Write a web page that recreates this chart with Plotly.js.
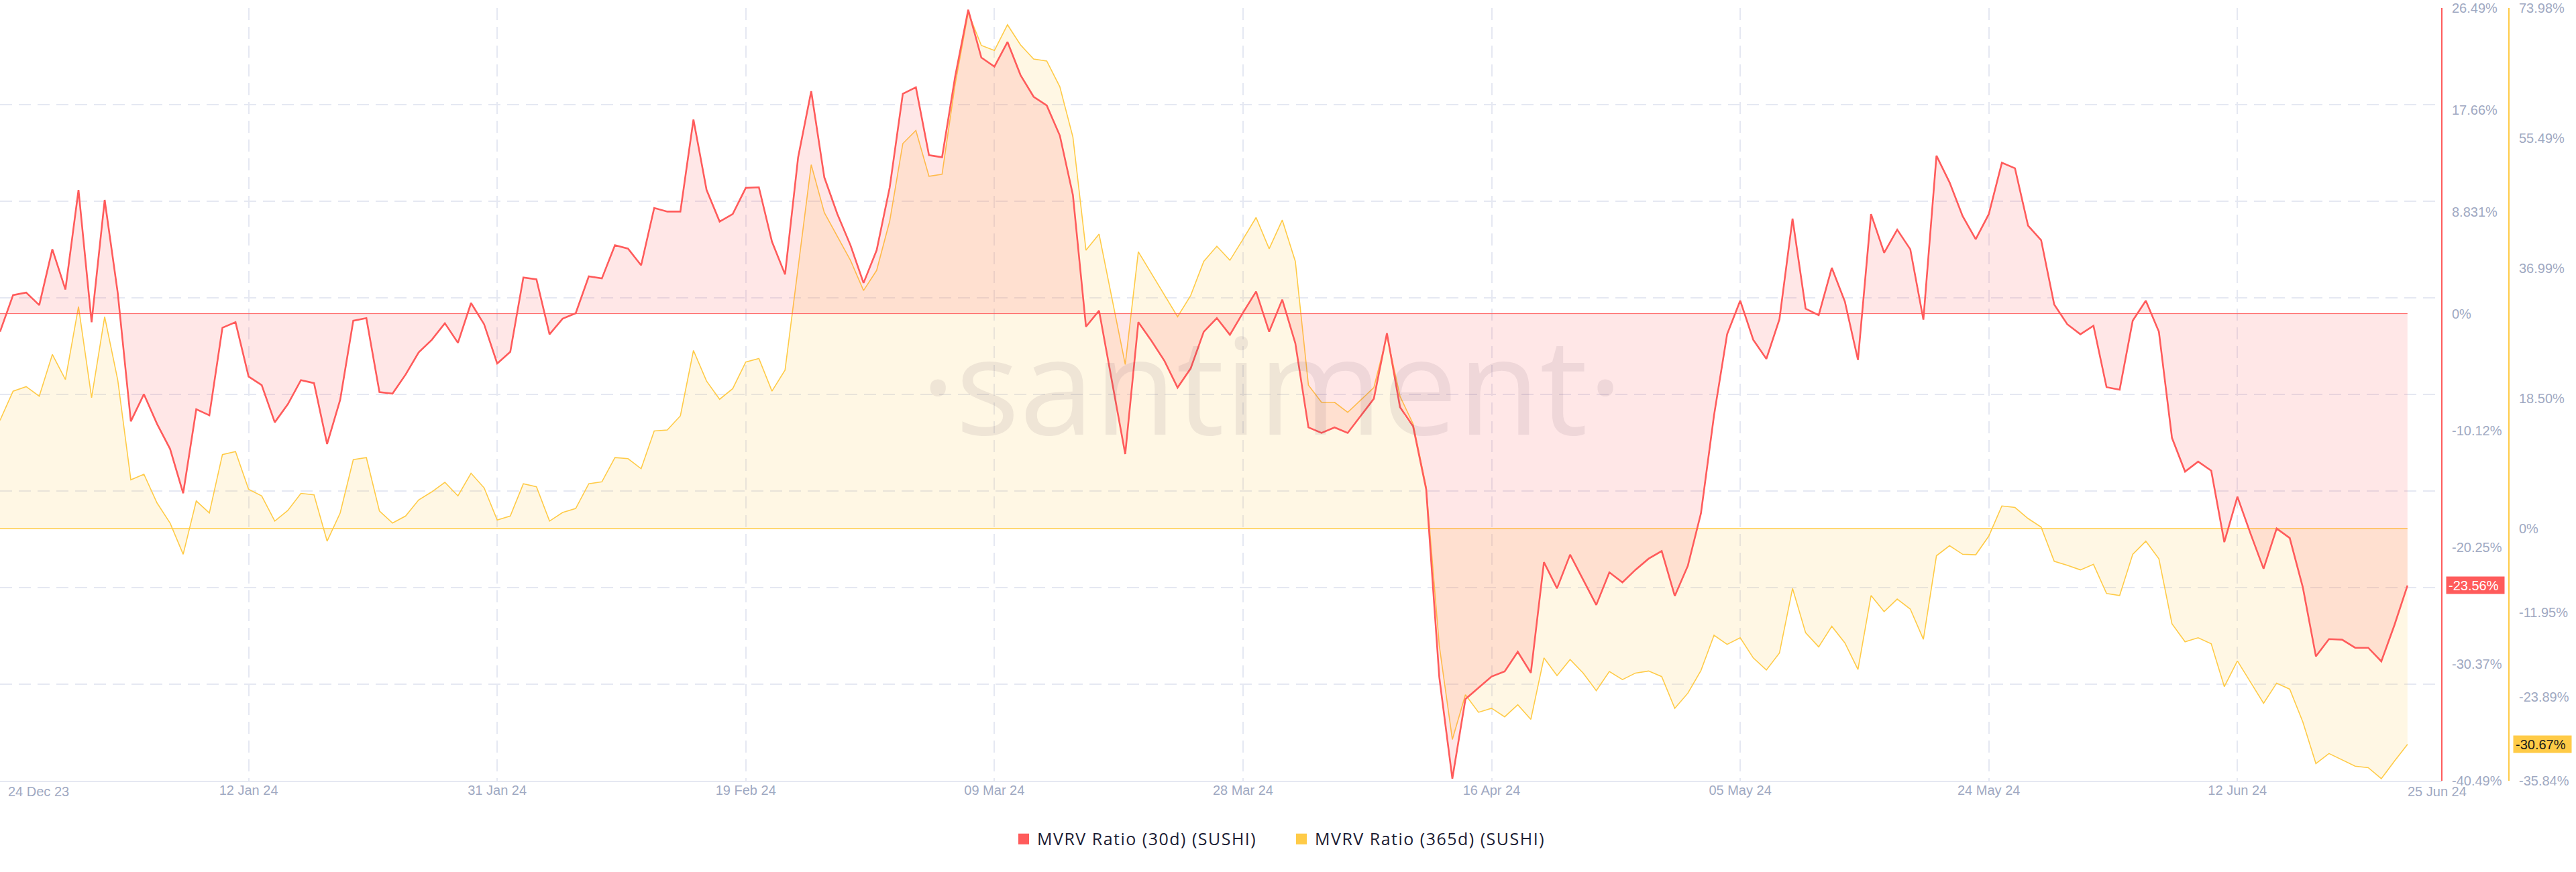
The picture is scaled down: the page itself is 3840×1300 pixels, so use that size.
<!DOCTYPE html>
<html>
<head>
<meta charset="utf-8">
<script src="https://cdn.plot.ly/plotly-3.0.1.min.js"></script>
<style>
html, body { margin: 0; padding: 0; background: #ffffff; }
#chart { width: 3840px; height: 1300px; }
#chart .legendtext { letter-spacing: 1.5px; }
</style>
</head>
<body>
<div id="chart"></div>
<script>
// ---------------- data ----------------
const START_DATE = '2023-12-24';   // first daily point
const END_DATE = '2024-06-25';     // last daily point

const seriesNames = ['MVRV Ratio (30d) (SUSHI)', 'MVRV Ratio (365d) (SUSHI)'];

// MVRV Ratio (30d), % — one value per day
const mvrv30d = [
  -1.57, 1.61, 1.83, 0.74, 5.58, 2.09, 10.73, -0.74, 9.86, 1.79,
  -9.33, -6.98, -9.55, -11.73, -15.57, -8.29, -8.81, -1.22, -0.74, -5.45,
  -6.19, -9.42, -7.85, -5.76, -6.02, -11.30, -7.46, -0.61, -0.39, -6.80,
  -6.93, -5.28, -3.36, -2.27, -0.83, -2.53, 0.92, -0.92, -4.32, -3.31,
  3.14, 2.97, -1.79, -0.44, 0.04, 3.23, 3.05, 5.93, 5.63, 4.19,
  9.16, 8.85, 8.85, 16.83, 10.73, 7.98, 8.63, 10.90, 10.95, 6.24,
  3.40, 13.56, 19.28, 11.82, 8.63, 5.93, 2.66, 5.50, 10.95, 19.06,
  19.62, 13.74, 13.56, 20.54, 26.34, 22.20, 21.41, 23.55, 20.67, 18.80,
  18.05, 15.44, 10.29, -1.13, 0.26, -5.93, -12.17, -0.74, -2.35, -4.10,
  -6.41, -4.75, -1.57, -0.39, -1.83, 0.09, 1.92, -1.57, 1.22, -2.57,
  -9.86, -10.34, -9.86, -10.34, -8.87, -7.37, -1.70, -8.11, -9.77, -15.22,
  -31.49, -40.30, -33.41, -32.45, -31.45, -31.01, -29.31, -31.14, -21.54, -23.81,
  -20.89, -23.07, -25.25, -22.42, -23.29, -22.20, -21.24, -20.58, -24.47, -21.85,
  -17.31, -8.81, -1.79, 1.13, -2.27, -3.92, -0.48, 8.24, 0.44, -0.13,
  3.97, 1.05, -4.01, 8.63, 5.28, 7.28, 5.58, -0.52, 13.69, 11.38,
  8.46, 6.45, 8.63, 13.08, 12.60, 7.63, 6.37, 0.79, -0.92, -1.79,
  -1.05, -6.37, -6.59, -0.61, 1.13, -1.57, -10.77, -13.69, -12.82, -13.61,
  -19.80, -15.87, -19.06, -22.11, -18.62, -19.45, -23.72, -29.70, -28.21, -28.26,
  -28.96, -28.96, -30.14, -27.00, -23.56
];

// MVRV Ratio (365d), % — one value per day
const mvrv365d = [
  15.38, 19.53, 20.17, 18.81, 24.75, 21.17, 31.55, 18.60, 30.11, 21.10,
  6.94, 7.73, 3.65, 0.79, -3.65, 3.93, 2.22, 10.52, 10.94, 5.58,
  4.65, 1.07, 2.58, 5.01, 4.79, -1.79, 2.22, 9.80, 10.09, 2.50,
  0.79, 1.79, 4.08, 5.22, 6.58, 4.65, 7.87, 5.79, 1.22, 1.79,
  6.37, 5.94, 1.07, 2.29, 2.86, 6.37, 6.65, 10.09, 9.94, 8.51,
  13.88, 14.02, 16.02, 25.32, 20.96, 18.38, 19.89, 23.68, 24.18, 19.53,
  22.53, 37.00, 51.72, 44.92, 41.49, 38.13, 33.83, 36.70, 43.71, 54.72,
  56.58, 50.07, 50.36, 63.16, 73.32, 68.67, 67.95, 71.60, 68.74, 66.74,
  66.45, 62.80, 55.65, 39.56, 41.85, 32.40, 23.32, 39.34, 36.27, 33.12,
  30.11, 33.12, 37.98, 40.13, 38.13, 41.13, 44.21, 39.77, 43.85, 37.98,
  20.39, 17.95, 17.95, 16.52, 18.24, 20.03, 27.40, 18.81, 14.88, 5.94,
  -16.60, -29.97, -23.61, -26.11, -25.54, -26.75, -25.04, -27.11, -18.38, -20.89,
  -18.60, -20.53, -23.03, -20.31, -21.46, -20.53, -20.24, -21.03, -25.54, -23.39,
  -20.17, -15.16, -16.45, -15.52, -18.38, -20.10, -17.67, -8.51, -14.81, -16.81,
  -13.88, -16.24, -20.03, -9.51, -11.80, -10.01, -11.44, -15.74, -3.86, -2.43,
  -3.65, -3.72, -1.07, 3.22, 3.00, 1.43, 0.21, -4.65, -5.22, -5.87,
  -5.08, -9.23, -9.51, -3.65, -1.79, -4.29, -13.52, -16.09, -15.52, -16.38,
  -22.46, -18.81, -21.82, -24.82, -21.96, -22.82, -27.47, -33.40, -31.97, -32.83,
  -33.76, -33.98, -35.55, -33.05, -30.67
];

// x-axis ticks (gridlines every 19 days)
const xTickDates = ['2023-12-24', '2024-01-12', '2024-01-31', '2024-02-19', '2024-03-09',
                    '2024-03-28', '2024-04-16', '2024-05-05', '2024-05-24', '2024-06-12'];
const xTickLabels = ['', '12 Jan 24', '31 Jan 24', '19 Feb 24', '09 Mar 24',
                     '28 Mar 24', '16 Apr 24', '05 May 24', '24 May 24', '12 Jun 24'];
const xEdgeLabels = ['24 Dec 23', '25 Jun 24'];

// right axes
const redRange = [-40.49, 26.49];
const redTicks = [26.49, 17.66, 8.831, 0, -10.12, -20.25, -30.37, -40.49];
const redTickLabels = ['26.49%', '17.66%', '8.831%', '0%', '-10.12%', '-20.25%', '-30.37%', '-40.49%'];
const yellowRange = [-35.84, 73.98];
const yellowTicks = [73.98, 55.49, 36.99, 18.50, 0, -11.95, -23.89, -35.84];
const yellowTickLabels = ['73.98%', '55.49%', '36.99%', '18.50%', '0%', '-11.95%', '-23.89%', '-35.84%'];
const gridRows = [0, 1, 2, 3, 4, 5, 6, 7, 8];

const watermarkText = '·santiment·';

// ---------------- build ----------------
const RED = '#ff5b5b';
const YEL = '#ffcb47';
const TICK_COLOR = '#9fa9c2';
const GRID_COLOR = '#e5e8f2';
const AXIS_FONT = 'Liberation Sans, Arial, sans-serif';

function dailyDates(start, n) {
  const out = [];
  const t0 = new Date(start + 'T00:00:00Z').getTime();
  for (let i = 0; i < n; i++) out.push(new Date(t0 + i * 86400000).toISOString().slice(0, 10));
  return out;
}
const days = dailyDates(START_DATE, mvrv30d.length);
const zeros = days.map(() => 0);

const lastRed = mvrv30d[mvrv30d.length - 1];
const lastYel = mvrv365d[mvrv365d.length - 1];
const fmtPct = v => v.toFixed(2) + '%';

const traces = [
  // legend entries (square swatches); they carry no points, and live on the grid axis
  { x: [null], y: [null], type: 'scatter', mode: 'markers', name: seriesNames[0], yaxis: 'y3',
    marker: { symbol: 'square', size: 18, color: RED }, hoverinfo: 'skip' },
  { x: [null], y: [null], type: 'scatter', mode: 'markers', name: seriesNames[1], yaxis: 'y3',
    marker: { symbol: 'square', size: 18, color: YEL }, hoverinfo: 'skip' },
  // 365d series filled to its zero
  { x: days, y: mvrv365d, type: 'scatter', mode: 'lines', yaxis: 'y', showlegend: false,
    line: { color: YEL, width: 1.6 }, fill: 'tozeroy', fillcolor: 'rgba(255,203,71,0.15)' },
  { x: days, y: zeros, type: 'scatter', mode: 'lines', yaxis: 'y', showlegend: false,
    line: { color: YEL, width: 1.6 }, hoverinfo: 'skip' },
  // 30d series filled to its zero
  { x: days, y: mvrv30d, type: 'scatter', mode: 'lines', yaxis: 'y2', showlegend: false,
    line: { color: RED, width: 2.6 }, fill: 'tozeroy', fillcolor: 'rgba(255,91,91,0.15)' },
  { x: days, y: zeros, type: 'scatter', mode: 'lines', yaxis: 'y2', showlegend: false,
    line: { color: RED, width: 1 }, hoverinfo: 'skip' }
];

const tickFont = { family: AXIS_FONT, size: 20, color: TICK_COLOR };

const layout = {
  width: 3840, height: 1300,
  margin: { l: 0, r: 0, t: 12, b: 136, pad: 0 },
  paper_bgcolor: '#ffffff', plot_bgcolor: '#ffffff',
  showlegend: true,
  legend: {
    orientation: 'h', x: 0.5, xanchor: 'center', y: -0.0755, yanchor: 'middle',
    entrywidth: 369, entrywidthmode: 'pixels',
    font: { family: 'Open Sans, Lato, sans-serif', size: 25, color: '#1c2034' },
    itemclick: false, itemdoubleclick: false
  },
  xaxis: {
    type: 'date', domain: [0, 0.94792], anchor: 'y',
    range: [START_DATE, '2024-06-27 15:00'],
    tickmode: 'array', tickvals: xTickDates, ticktext: xTickLabels,
    showgrid: true, gridcolor: GRID_COLOR, gridwidth: 2, griddash: '18px,10px',
    showline: true, linecolor: GRID_COLOR, linewidth: 2,
    zeroline: false, ticks: '', tickfont: tickFont, ticklabelstandoff: -5
  },
  yaxis: {
    range: yellowRange, side: 'right', anchor: 'free', position: 0.97396,
    tickmode: 'array', tickvals: yellowTicks, ticktext: yellowTickLabels,
    showgrid: false, zeroline: false, showline: true, linecolor: YEL, linewidth: 2,
    ticks: '', tickfont: tickFont, ticklabelstandoff: 10
  },
  yaxis2: {
    range: redRange, side: 'right', anchor: 'free', position: 0.94792, overlaying: 'y',
    tickmode: 'array', tickvals: redTicks, ticktext: redTickLabels,
    showgrid: false, zeroline: false, showline: true, linecolor: RED, linewidth: 2,
    ticks: '', tickfont: tickFont, ticklabelstandoff: 10
  },
  yaxis3: {
    range: [gridRows[0], gridRows[gridRows.length - 1]], overlaying: 'y', anchor: 'x', side: 'left',
    tickmode: 'array', tickvals: gridRows, showticklabels: false, ticks: '',
    showgrid: true, gridcolor: GRID_COLOR, gridwidth: 2, griddash: '18px,10px',
    zeroline: false, showline: false
  },
  annotations: [
    { text: watermarkText, xref: 'paper', yref: 'paper', x: 0.4935, y: 0.5156,
      xanchor: 'center', yanchor: 'middle', showarrow: false,
      font: { family: 'Open Sans, sans-serif', size: 200, color: 'rgba(70,50,70,0.085)' } },
    { text: xEdgeLabels[0], xref: 'x', yref: 'paper', x: START_DATE, y: 0, xanchor: 'left', yanchor: 'top',
      xshift: 10, yshift: -3, showarrow: false, font: tickFont },
    { text: xEdgeLabels[1], xref: 'x', yref: 'paper', x: END_DATE, y: 0, xanchor: 'left', yanchor: 'top',
      xshift: -2, yshift: -3, showarrow: false, font: tickFont },
    { text: fmtPct(lastRed), xref: 'paper', yref: 'y2', x: 3646 / 3840, y: lastRed,
      xanchor: 'left', yanchor: 'middle', showarrow: false, align: 'left',
      width: 80, height: 19, borderpad: 3, bgcolor: RED,
      font: { family: AXIS_FONT, size: 20, color: '#ffffff' } },
    { text: fmtPct(lastYel), xref: 'paper', yref: 'y', x: 3746 / 3840, y: lastYel,
      xanchor: 'left', yanchor: 'middle', showarrow: false, align: 'left',
      width: 80, height: 19, borderpad: 3, bgcolor: YEL,
      font: { family: AXIS_FONT, size: 20, color: '#1b1b1b' } }
  ]
};

Plotly.newPlot('chart', traces, layout, { displayModeBar: false, staticPlot: true });
</script>
</body>
</html>
